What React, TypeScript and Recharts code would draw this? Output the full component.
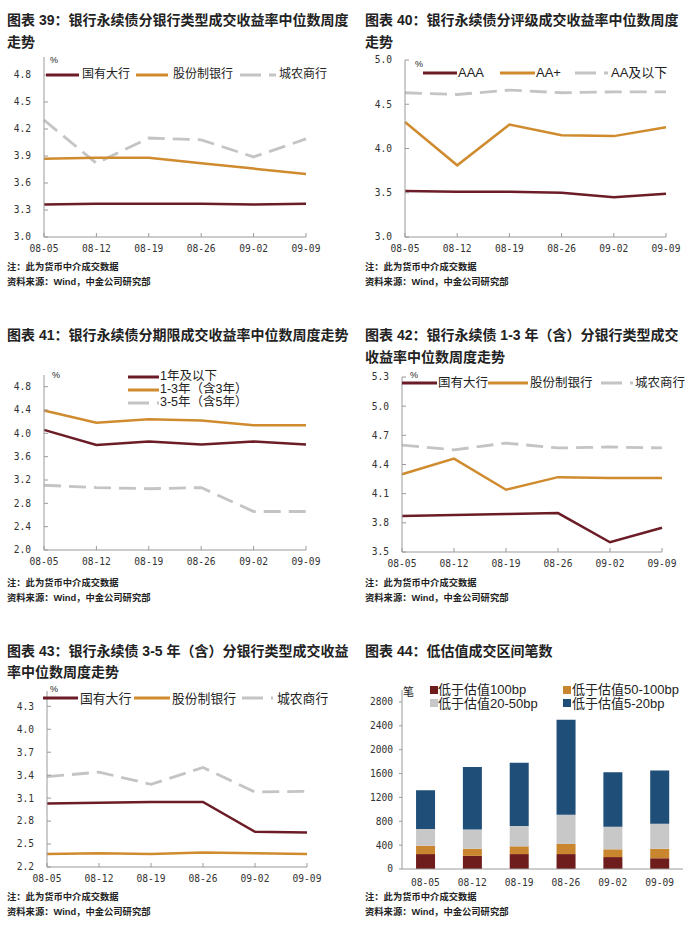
import React from 'react';
import { LineChart, Line, XAxis, YAxis, BarChart, Bar } from 'recharts';

// ---------- data ----------
const dates = ['08-05', '08-12', '08-19', '08-26', '09-02', '09-09'];

// 图表39
const c39State = [3.36, 3.37, 3.37, 3.37, 3.36, 3.37];
const c39Joint = [3.87, 3.88, 3.88, 3.82, 3.76, 3.70];
const c39City = [4.30, 3.82, 4.10, 4.08, 3.89, 4.09];
const c39Ticks = [3.0, 3.3, 3.6, 3.9, 4.2, 4.5, 4.8];

// 图表40
const c40AAA = [3.52, 3.51, 3.51, 3.50, 3.45, 3.49];
const c40AAPlus = [4.30, 3.81, 4.27, 4.15, 4.14, 4.24];
const c40AA = [4.63, 4.61, 4.66, 4.63, 4.64, 4.64];
const c40Ticks = [3.0, 3.5, 4.0, 4.5, 5.0];

// 图表41
const c41Y1 = [4.06, 3.80, 3.86, 3.81, 3.86, 3.81];
const c41Y13 = [4.39, 4.18, 4.24, 4.22, 4.14, 4.14];
const c41Y35 = [3.11, 3.07, 3.05, 3.07, 2.66, 2.66];
const c41Ticks = [2.0, 2.4, 2.8, 3.2, 3.6, 4.0, 4.4, 4.8];

// 图表42
const c42State = [3.87, 3.88, 3.89, 3.90, 3.60, 3.75];
const c42Joint = [4.30, 4.46, 4.14, 4.27, 4.26, 4.26];
const c42City = [4.60, 4.55, 4.62, 4.57, 4.58, 4.57];
const c42Ticks = [3.5, 3.8, 4.1, 4.4, 4.7, 5.0, 5.3];

// 图表43
const c43State = [3.03, 3.04, 3.05, 3.05, 2.66, 2.65];
const c43Joint = [2.37, 2.38, 2.37, 2.39, 2.38, 2.37];
const c43City = [3.38, 3.44, 3.28, 3.50, 3.18, 3.19];
const c43Ticks = [2.2, 2.5, 2.8, 3.1, 3.4, 3.7, 4.0, 4.3];

// 图表44
const c44Below100 = [250, 220, 250, 250, 200, 180];
const c44Below50to100 = [140, 120, 130, 170, 130, 160];
const c44Below20to50 = [280, 320, 340, 490, 380, 420];
const c44Below5to20 = [650, 1050, 1060, 1590, 910, 890];
const c44Ticks = [0, 400, 800, 1200, 1600, 2000, 2400, 2800];

const bankNames = ['国有大行', '股份制银行', '城农商行'];
const ratingNames = ['AAA', 'AA+', 'AA及以下'];
const termNames = ['1年及以下', '1-3年（含3年）', '3-5年（含5年）'];
const barNames = ['低于估值100bp', '低于估值50-100bp', '低于估值20-50bp', '低于估值5-20bp'];

// ---------- styles ----------
const MAROON = '#6B1C26';
const GOLD = '#CF8B2E';
const GRAY = '#C4C4C4';
const AXIS = '#9A9A9A';
const BAR_COLORS = ['#6E1C1C', '#C9862E', '#C8C8C8', '#1F4E79'];
const SANS = '"Liberation Sans", "Noto Sans CJK SC", sans-serif';
const MONO = '"DejaVu Sans Mono", monospace';

const build = (a: number[], b: number[], c: number[]) =>
  dates.map((d, i) => ({ date: d, a: a[i], b: b[i], c: c[i] }));

const fmt1 = (v: number) => v.toFixed(1);

type Plot = { x0: number; x1: number; y0: number; y1: number };

const tickStyle = { fontSize: 9.6, fill: '#333', fontFamily: MONO };

function LinePanel({ plot, domain, ticks, data }: { plot: Plot; domain: [number, number]; ticks: number[]; data: any[] }) {
  const YW = 40, MT = 10, XH = 30, MR = 20;
  const w = plot.x1 - plot.x0 + YW + MR;
  const h = plot.y1 - plot.y0 + MT + XH;
  return (
    <div style={{ position: 'absolute', left: plot.x0 - YW, top: plot.y0 - MT }}>
      <LineChart width={w} height={h} data={data} margin={{ top: MT, right: MR, left: 0, bottom: 0 }}>
        <XAxis
          dataKey="date"
          height={XH}
          interval={0}
          axisLine={{ stroke: AXIS }}
          tickLine={{ stroke: AXIS }}
          tickSize={-4}
          tickMargin={12}
          tick={tickStyle}
        />
        <YAxis
          type="number"
          width={YW}
          domain={domain}
          ticks={ticks}
          allowDataOverflow
          interval={0}
          axisLine={{ stroke: AXIS }}
          tickLine={{ stroke: AXIS }}
          tickSize={-4}
          tickMargin={17}
          tick={tickStyle}
          tickFormatter={fmt1}
        />
        <Line type="linear" dataKey="c" stroke={GRAY} strokeWidth={2.8} strokeDasharray="17 8" dot={false} isAnimationActive={false} />
        <Line type="linear" dataKey="b" stroke={GOLD} strokeWidth={2.5} dot={false} isAnimationActive={false} />
        <Line type="linear" dataKey="a" stroke={MAROON} strokeWidth={2.5} dot={false} isAnimationActive={false} />
      </LineChart>
    </div>
  );
}

function T({ x, y, size, bold, children, color }: { x: number; y: number; size: number; bold?: boolean; children: any; color?: string }) {
  return (
    <div
      style={{
        position: 'absolute',
        left: x,
        top: y - size * 0.6,
        fontSize: size,
        lineHeight: `${size * 1.2}px`,
        fontWeight: bold ? 700 : 400,
        whiteSpace: 'nowrap',
        color: color || '#222',
        fontFamily: SANS,
      }}
    >
      {children}
    </div>
  );
}

function Swatch({ x0, x1, y, color, dashed }: { x0: number; x1: number; y: number; color: string; dashed?: boolean }) {
  return (
    <svg style={{ position: 'absolute', left: x0, top: y - 3 }} width={x1 - x0} height={6}>
      <line x1={0} y1={3} x2={x1 - x0} y2={3} stroke={color} strokeWidth={3} strokeDasharray={dashed ? '21 8' : undefined} />
    </svg>
  );
}

function Square({ x, y, color }: { x: number; y: number; color: string }) {
  return <div style={{ position: 'absolute', left: x, top: y - 4, width: 8, height: 8, background: color }} />;
}

function Notes({ x, y }: { x: number; y: number }) {
  return (
    <>
      <T x={x} y={y} size={9.3} bold>注：此为货币中介成交数据</T>
      <T x={x} y={y + 15} size={9.3} bold>资料来源：Wind，中金公司研究部</T>
    </>
  );
}

function RowLegend({ y, size, items, names }: { y: number; size: number; items: { s0: number; s1: number; t: number; color: string; dashed?: boolean }[]; names: string[] }) {
  return (
    <>
      {items.map((it, i) => (
        <React.Fragment key={i}>
          <Swatch x0={it.s0} x1={it.s1} y={y} color={it.color} dashed={it.dashed} />
          <T x={it.t} y={y} size={size}>{names[i]}</T>
        </React.Fragment>
      ))}
    </>
  );
}

export default function App() {
  const d39 = build(c39State, c39Joint, c39City);
  const d40 = build(c40AAA, c40AAPlus, c40AA);
  const d41 = build(c41Y1, c41Y13, c41Y35);
  const d42 = build(c42State, c42Joint, c42City);
  const d43 = build(c43State, c43Joint, c43City);
  const d44 = dates.map((d, i) => ({
    date: d,
    s1: c44Below100[i],
    s2: c44Below50to100[i],
    s3: c44Below20to50[i],
    s4: c44Below5to20[i],
  }));

  return (
    <div style={{ position: 'absolute', left: 0, top: 0, width: 700, height: 929, background: '#fff', overflow: 'hidden', fontFamily: SANS }}>
      {/* ---------- 图表39 ---------- */}
      <T x={7} y={20} size={14} bold>图表 39：银行永续债分银行类型成交收益率中位数周度</T>
      <T x={7} y={42} size={14} bold>走势</T>
      <LinePanel plot={{ x0: 44, x1: 306, y0: 57, y1: 237 }} domain={[3.0, 5.0]} ticks={c39Ticks} data={d39} />
      <T x={50} y={60} size={9}>%</T>
      <RowLegend
        y={74.5}
        size={12}
        names={bankNames}
        items={[
          { s0: 46, s1: 79, t: 82, color: MAROON },
          { s0: 136, s1: 168, t: 173, color: GOLD },
          { s0: 240, s1: 276, t: 279, color: GRAY, dashed: true },
        ]}
      />
      <Notes x={7} y={268} />

      {/* ---------- 图表40 ---------- */}
      <T x={365} y={20} size={14} bold>图表 40：银行永续债分评级成交收益率中位数周度</T>
      <T x={365} y={42} size={14} bold>走势</T>
      <LinePanel plot={{ x0: 405, x1: 666, y0: 60, y1: 237 }} domain={[3.0, 5.0]} ticks={c40Ticks} data={d40} />
      <T x={415} y={64} size={9}>%</T>
      <RowLegend
        y={72.5}
        size={13}
        names={ratingNames}
        items={[
          { s0: 423, s1: 457, t: 458, color: MAROON },
          { s0: 500, s1: 535, t: 536, color: GOLD },
          { s0: 575, s1: 608, t: 611, color: GRAY, dashed: true },
        ]}
      />
      <Notes x={365} y={268} />

      {/* ---------- 图表41 ---------- */}
      <T x={7} y={335} size={14} bold>图表 41：银行永续债分期限成交收益率中位数周度走势</T>
      <LinePanel plot={{ x0: 44, x1: 306, y0: 375, y1: 550 }} domain={[2.0, 5.0]} ticks={c41Ticks} data={d41} />
      <T x={52} y={375} size={9}>%</T>
      <Swatch x0={128} x1={159} y={376.7} color={MAROON} />
      <T x={160} y={376.7} size={12.5}>{termNames[0]}</T>
      <Swatch x0={128} x1={159} y={389.7} color={GOLD} />
      <T x={160} y={389.7} size={12.5}>{termNames[1]}</T>
      <Swatch x0={128} x1={159} y={402.7} color={GRAY} dashed />
      <T x={160} y={402.7} size={12.5}>{termNames[2]}</T>
      <Notes x={7} y={584} />

      {/* ---------- 图表42 ---------- */}
      <T x={365} y={335} size={14} bold>图表 42：银行永续债 1-3 年（含）分银行类型成交</T>
      <T x={365} y={357} size={14} bold>收益率中位数周度走势</T>
      <LinePanel plot={{ x0: 402, x1: 662, y0: 377, y1: 552 }} domain={[3.5, 5.3]} ticks={c42Ticks} data={d42} />
      <T x={410} y={375} size={9}>%</T>
      <RowLegend
        y={383.3}
        size={12.5}
        names={bankNames}
        items={[
          { s0: 402, s1: 437, t: 438, color: MAROON },
          { s0: 488, s1: 528, t: 530, color: GOLD },
          { s0: 601, s1: 633, t: 635, color: GRAY, dashed: true },
        ]}
      />
      <Notes x={365} y={584} />

      {/* ---------- 图表43 ---------- */}
      <T x={7} y={651} size={14} bold>图表 43：银行永续债 3-5 年（含）分银行类型成交收益</T>
      <T x={7} y={672} size={14} bold>率中位数周度走势</T>
      <LinePanel plot={{ x0: 47, x1: 307, y0: 691, y1: 867 }} domain={[2.2, 4.5]} ticks={c43Ticks} data={d43} />
      <T x={50} y={689} size={9}>%</T>
      <RowLegend
        y={698.3}
        size={12.8}
        names={bankNames}
        items={[
          { s0: 43, s1: 78, t: 80, color: MAROON },
          { s0: 134, s1: 170, t: 172, color: GOLD },
          { s0: 242, s1: 273, t: 277, color: GRAY, dashed: true },
        ]}
      />
      <Notes x={7} y={898} />

      {/* ---------- 图表44 ---------- */}
      <T x={365} y={651} size={14} bold>图表 44：低估值成交区间笔数</T>
      <div style={{ position: 'absolute', left: 402 - 45, top: 690 - 10 }}>
        <BarChart width={683 - 402 + 45 + 10} height={869 - 690 + 10 + 30} data={d44} margin={{ top: 10, right: 10, left: 0, bottom: 0 }} barCategoryGap="30%">
          <XAxis dataKey="date" height={30} interval={0} axisLine={{ stroke: AXIS }} tickLine={false} tickMargin={4} tick={tickStyle} />
          <YAxis
            type="number"
            width={45}
            domain={[0, 3000]}
            ticks={c44Ticks}
            allowDataOverflow
            interval={0}
            axisLine={{ stroke: AXIS }}
            tickLine={{ stroke: AXIS }}
            tickSize={3}
            tickMargin={6}
            tick={tickStyle}
          />
          <Bar dataKey="s1" stackId="x" fill={BAR_COLORS[0]} isAnimationActive={false} />
          <Bar dataKey="s2" stackId="x" fill={BAR_COLORS[1]} isAnimationActive={false} />
          <Bar dataKey="s3" stackId="x" fill={BAR_COLORS[2]} isAnimationActive={false} />
          <Bar dataKey="s4" stackId="x" fill={BAR_COLORS[3]} isAnimationActive={false} />
        </BarChart>
      </div>
      <T x={403} y={693} size={11}>笔</T>
      <Square x={430} y={690} color={BAR_COLORS[0]} />
      <T x={438} y={690} size={13}>{barNames[0]}</T>
      <Square x={563} y={690} color={BAR_COLORS[1]} />
      <T x={572} y={690} size={13}>{barNames[1]}</T>
      <Square x={430} y={703.3} color={BAR_COLORS[2]} />
      <T x={438} y={703.3} size={13}>{barNames[2]}</T>
      <Square x={563} y={703.3} color={BAR_COLORS[3]} />
      <T x={572} y={703.3} size={13}>{barNames[3]}</T>
      <Notes x={365} y={898} />
    </div>
  );
}
